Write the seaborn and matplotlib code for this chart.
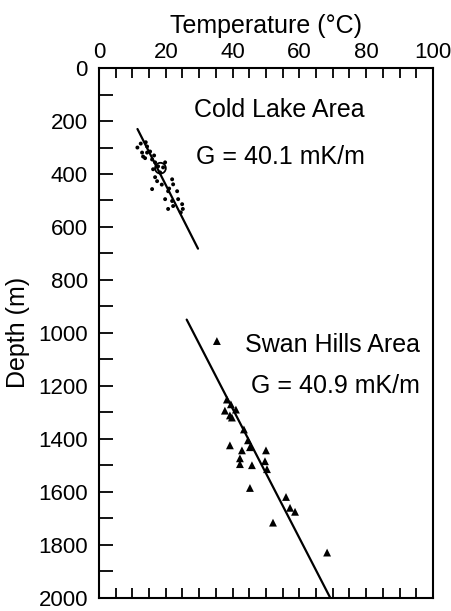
import numpy as np
import pandas as pd
import matplotlib
matplotlib.use('Agg')
import matplotlib.pyplot as plt
from matplotlib.ticker import MultipleLocator
import seaborn as sns

# Cold Lake Area: temperature (degC) and depth (m) of the small dots
COLD_TEMP = [13.2, 14.4, 15.3, 15.9, 16.8, 16.2, 17.7, 19.2, 19.8, 18.3,
             16.8, 17.4, 21.9, 22.2, 15.9, 20.7, 23.4, 19.8, 21.9, 23.7,
             22.2, 24.9, 25.1, 20.7, 14.4, 12.9, 12.5, 14.0, 11.5, 13.8,
             16.5, 18.8, 21.0, 24.5]
COLD_DEPTH = [334, 319, 315, 345, 356, 382, 371, 375, 356, 394,
              412, 427, 420, 439, 457, 465, 465, 495, 502, 495,
              521, 514, 532, 532, 296, 319, 285, 280, 300, 340,
              330, 440, 455, 545]
COLD_CIRCLE = (18.4, 378)

# Swan Hills Area: triangles
SWAN_TEMP = [35.3, 38.3, 37.7, 41.0, 39.2, 39.8, 43.4, 39.2, 44.6, 45.2,
             42.8, 42.2, 50.0, 42.2, 45.8, 49.7, 50.3, 45.2, 56.0, 57.2,
             58.7, 52.1, 68.3, 39.5]
SWAN_DEPTH = [1031, 1252, 1294, 1290, 1312, 1320, 1365, 1425, 1406, 1432,
              1444, 1474, 1444, 1496, 1500, 1485, 1515, 1586, 1620, 1661,
              1676, 1717, 1830, 1270]

# fitted gradients (mK/m), surface intercepts (degC) and depth range of each line
COLD_G, COLD_T0, COLD_RANGE = 40.1, 2.3, (230, 682)
SWAN_G, SWAN_T0, SWAN_RANGE = 40.9, -12.6, (950, 2000)

FONT = ['Liberation Sans', 'DejaVu Sans']


def fit_line(g, t0, depth_range):
    depth = np.array(depth_range, dtype=float)
    return pd.DataFrame({'temp': t0 + g / 1000.0 * depth, 'depth': depth})


def main():
    sns.set_style('ticks')
    plt.rcParams['font.family'] = FONT
    for key in ['text.color', 'axes.labelcolor', 'xtick.color', 'ytick.color',
                'axes.edgecolor']:
        plt.rcParams[key] = 'black'

    fig = plt.figure(figsize=(4.51, 6.11), dpi=100)
    ax = fig.add_axes([0.2195, 0.022, 0.7405, 0.8665])

    cold = pd.DataFrame({'temp': COLD_TEMP, 'depth': COLD_DEPTH})
    swan = pd.DataFrame({'temp': SWAN_TEMP, 'depth': SWAN_DEPTH})

    sns.scatterplot(data=cold, x='temp', y='depth', ax=ax, marker='o',
                    s=8, color='black', edgecolor='none')
    ax.scatter([COLD_CIRCLE[0]], [COLD_CIRCLE[1]], s=60, facecolor='none',
               edgecolor='black', linewidth=1.3)
    sns.scatterplot(data=swan, x='temp', y='depth', ax=ax, marker='^',
                    s=32, color='black', edgecolor='none')

    sns.lineplot(data=fit_line(COLD_G, COLD_T0, COLD_RANGE), x='temp', y='depth',
                 ax=ax, color='black', linewidth=1.6, sort=False)
    sns.lineplot(data=fit_line(SWAN_G, SWAN_T0, SWAN_RANGE), x='temp', y='depth',
                 ax=ax, color='black', linewidth=1.6, sort=False)

    ax.set_xlim(0, 100)
    ax.set_ylim(2000, 0)

    # temperature axis on top, bare ticks on the bottom
    ax.xaxis.set_major_locator(MultipleLocator(20))
    ax.xaxis.set_minor_locator(MultipleLocator(5))
    ax.xaxis.set_label_position('top')
    ax.tick_params(axis='x', which='both', top=True, bottom=True, labeltop=True,
                   labelbottom=False, direction='in', length=7, width=1.3,
                   labelsize=16, pad=4)
    ax.yaxis.set_major_locator(MultipleLocator(200))
    ax.yaxis.set_minor_locator(MultipleLocator(100))
    ax.tick_params(axis='y', which='both', left=True, right=False, direction='in',
                   length=10, width=1.3, labelsize=16, pad=8)

    for side in ['top', 'bottom', 'left', 'right']:
        ax.spines[side].set_visible(True)
        ax.spines[side].set_linewidth(1.5)
        ax.spines[side].set_color('black')

    ax.set_xlabel('Temperature (°C)', fontsize=18, labelpad=6)
    ax.set_ylabel('Depth (m)', fontsize=18, labelpad=6)

    ax.text(79.6, 160, 'Cold Lake Area', fontsize=18, ha='right', va='center')
    ax.text(79.6, 334, f'G = {COLD_G} mK/m', fontsize=18, ha='right', va='center')
    ax.text(96.1, 1046, 'Swan Hills Area', fontsize=18, ha='right', va='center')
    ax.text(96.1, 1200, f'G = {SWAN_G} mK/m', fontsize=18, ha='right', va='center')

    fig.savefig('out.png', dpi=100, facecolor='white')
    plt.close(fig)


if __name__ == '__main__':
    main()
